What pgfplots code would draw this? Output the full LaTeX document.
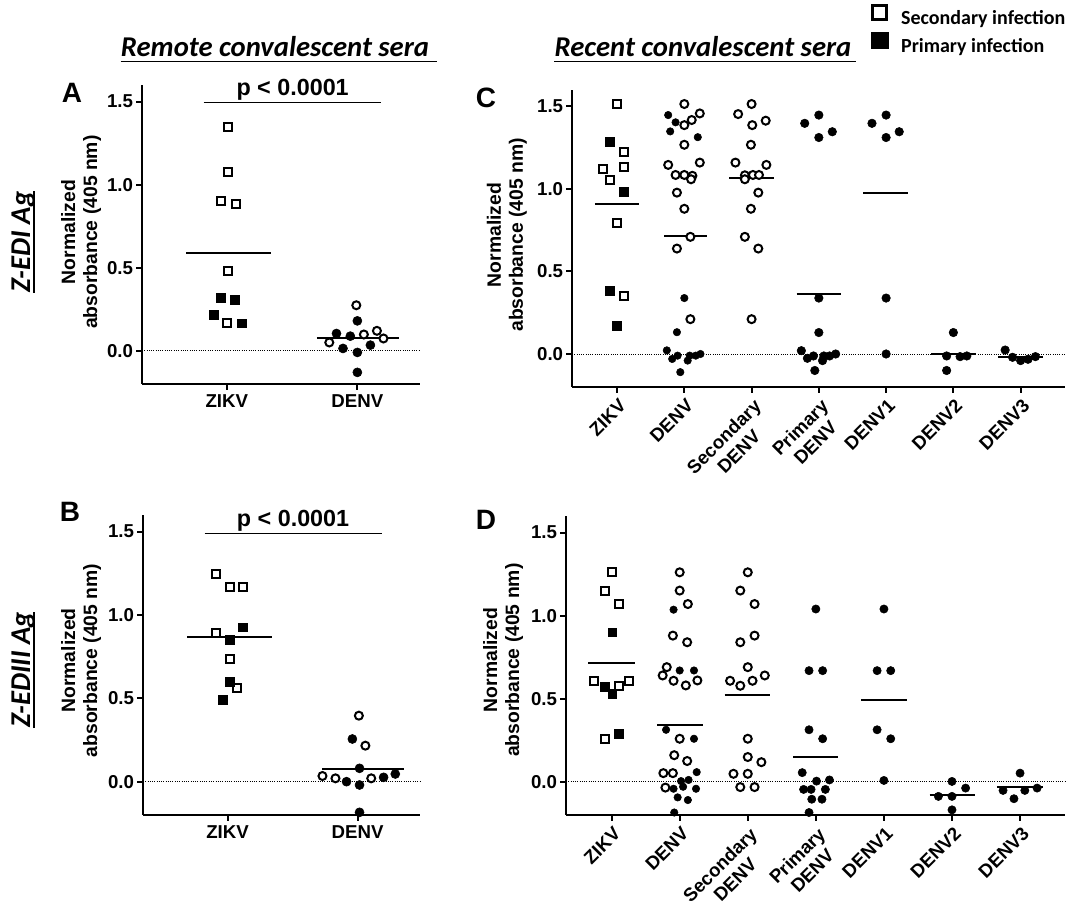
\documentclass[border=0pt]{standalone}
\usepackage{pgfplots}
\pgfplotsset{compat=1.18}
\usepackage{fontspec}
\setmainfont{Liberation Sans}
\newfontfamily\calibri{Carlito}

\pgfplotsset{
  panel/.style={
    scale only axis,
    axis lines=left,
    axis line style={line width=1.5pt, -},
    ymin=-0.2, ymax=1.6,
    ytick={0,0.5,1,1.5},
    yticklabel style={/pgf/number format/fixed, /pgf/number format/fixed zerofill, /pgf/number format/precision=1, inner sep=2pt},
    /pgf/number format/assume math mode=true,
    tick align=outside,
    major tick length=4.5pt,
    tick style={line width=1.5pt, black},
    tick label style={font=\fontsize{14}{16}\selectfont\bfseries},
    label style={font=\fontsize{14.5}{16.5}\selectfont\bfseries, align=center},
    ylabel={Normalized\\absorbance (405 nm)},
    clip=false,
  },
  twocat/.style={xmin=0.35, xmax=2.48, xtick={1,2}, xticklabels={ZIKV,DENV}},
  sevencat/.style={xmin=0.33, xmax=7.66, xtick={1,2,3,4,5,6,7},
    xticklabels={ZIKV,DENV,{Secondary\\DENV},{Primary\\DENV},DENV1,DENV2,DENV3},
    xticklabel style={rotate=45, anchor=north east, align=center, inner sep=1pt, yshift=-2pt, xshift=-1pt}},
  sqo/.style={only marks, mark=square*, mark size=3.0pt, mark options={draw=black, fill=white, line width=1.5pt}},
  sqf/.style={only marks, mark=square*, mark size=3.3pt, mark options={draw=black, fill=black, line width=0.4pt}},
  cio/.style={only marks, mark=*, mark size=3.0pt, mark options={draw=black, fill=white, line width=1.5pt}},
  cif/.style={only marks, mark=*, mark size=#1, mark options={draw=black, fill=black, line width=0.4pt}},
  cif/.default=3.4pt,
  meanl/.style={black, line width=1.5pt, no marks},
  zerol/.style={black, densely dotted, line width=0.7pt, no marks},
}

\begin{document}
\begin{tikzpicture}
\path[use as bounding box] (0,0) rectangle (803.25pt,677.25pt);

% ---------------- Panel A ----------------
\begin{axis}[panel, twocat, at={(106.5pt,389.25pt)}, anchor=south west,
  width=208.5pt, height=224.25pt,
  ylabel style={at={(axis description cs:-0.219,0.508)}, anchor=center}]
\addplot[zerol] coordinates {(0.35,0) (2.48,0)};
\addplot[sqo] coordinates {(1.01,1.35) (1.01,1.074) (0.954,0.90) (1.067,0.884) (1.01,0.478) (1.005,0.166)};
\addplot[sqf] coordinates {(0.956,0.32) (1.062,0.308) (0.90,0.218) (1.113,0.166)};
\addplot[cio] coordinates {(1.992,0.274) (2.05,0.098) (2.15,0.12) (2.2,0.074) (1.785,0.05)};
\addplot[cif] coordinates {(2.0,0.18) (1.84,0.104) (1.946,0.088) (1.89,0.014) (2.1,0.034) (2.0,-0.01) (2.0,-0.13)};
\addplot[meanl] coordinates {(0.69,0.586) (1.336,0.586)};
\addplot[meanl] coordinates {(1.69,0.074) (2.32,0.074)};
\addplot[black, line width=1pt, no marks] coordinates {(0.823,1.494) (2.185,1.494)};
\node[anchor=south, inner sep=1.5pt, font=\fontsize{17.5}{19}\selectfont\bfseries] at (axis cs:1.504,1.494) {p < 0.0001};
\end{axis}

% ---------------- Panel B ----------------
\begin{axis}[panel, twocat, at={(107.25pt,66pt)}, anchor=south west,
  width=207.75pt, height=225pt,
  ylabel style={at={(axis description cs:-0.223,0.515)}, anchor=center}]
\addplot[zerol] coordinates {(0.35,0) (2.48,0)};
\addplot[sqo] coordinates {(0.91,1.246) (1.02,1.17) (1.12,1.17) (0.91,0.89) (1.02,0.734) (1.07,0.56)};
\addplot[sqf] coordinates {(1.12,0.926) (1.02,0.85) (1.02,0.60) (0.965,0.49)};
\addplot[cio] coordinates {(2.01,0.396) (2.06,0.216) (1.73,0.034) (1.83,0.02) (2.105,0.02)};
\addplot[cif] coordinates {(1.96,0.256) (2.015,0.08) (1.915,0.0) (2.015,-0.02) (2.2,0.026) (2.29,0.046) (2.015,-0.184)};
\addplot[meanl] coordinates {(0.69,0.866) (1.34,0.866)};
\addplot[meanl] coordinates {(1.73,0.076) (2.36,0.076)};
\addplot[black, line width=1pt, no marks] coordinates {(0.823,1.49) (2.185,1.49)};
\node[anchor=south, inner sep=1.5pt, font=\fontsize{17.5}{19}\selectfont\bfseries] at (axis cs:1.504,1.49) {p < 0.0001};
\end{axis}

% ---------------- Panel C ----------------
\begin{axis}[panel, sevencat, at={(429pt,387pt)}, anchor=south west,
  width=369.75pt, height=222.75pt,
  ylabel style={at={(axis description cs:-0.132,0.512)}, anchor=center},
  legend style={at={(axis description cs:0.6065,1.286)}, anchor=north west, draw=none, fill=none,
    font=\calibri\fontsize{15}{18}\selectfont\bfseries, row sep=4pt, column sep=10pt, inner sep=0pt,
    nodes={inner sep=0pt}, legend cell align=left},
  legend image code/.code={\draw[#1] plot coordinates {(0pt,4.6pt)};}]
\addlegendimage{only marks, mark=square*, mark size=5.4pt, mark options={draw=black, fill=white, line width=2pt}}
\addlegendentry{Secondary infection}
\addlegendimage{only marks, mark=square*, mark size=6.2pt, mark options={draw=black, fill=black, line width=0.4pt}}
\addlegendentry{Primary infection}
\addplot[zerol, forget plot] coordinates {(0.33,0) (7.66,0)};
% ZIKV
\addplot[sqo, forget plot] coordinates {(1,1.515) (1.10,1.227) (0.79,1.12) (1.10,1.136) (0.89,1.053) (1,0.795) (1.10,0.349)};
\addplot[sqf, forget plot] coordinates {(0.89,1.286) (1.10,0.984) (0.89,0.385) (1,0.17)};
\addplot[meanl, forget plot] coordinates {(0.67,0.911) (1.32,0.911)};
% DENV
\addplot[cif=2.8pt, forget plot] coordinates {(1.76,1.448) (1.87,1.404) (1.79,1.349) (2.20,1.314) (2,0.339) (1.89,0.132) (1.74,0.022) (1.82,-0.03) (1.9,-0.01) (1.94,-0.11) (2.05,-0.04) (2.08,-0.01) (2.17,-0.01) (2.24,0.0)};
\addplot[cio, forget plot] coordinates {(2,1.515) (2.23,1.458) (2.11,1.418) (2,1.387) (2,1.268) (2.23,1.16) (1.76,1.146) (1.87,1.085) (2.0,1.085) (2.12,1.08) (2.10,1.059) (1.89,0.978) (2,0.88) (2.09,0.71) (1.89,0.639) (2.09,0.211)};
\addplot[meanl, forget plot] coordinates {(1.70,0.714) (2.33,0.714)};
% Secondary DENV
\addplot[cio, forget plot] coordinates {(3,1.515) (2.80,1.454) (3.21,1.414) (3.01,1.387) (2.99,1.268) (2.76,1.16) (3.22,1.146) (2.90,1.083) (3.02,1.085) (3.11,1.085) (2.90,1.059) (3.10,0.978) (2.99,0.88) (2.90,0.71) (3.10,0.639) (3,0.211)};
\addplot[meanl, forget plot] coordinates {(2.67,1.067) (3.33,1.067)};
% Primary DENV
\addplot[cif=3.2pt, forget plot] coordinates {(4,1.448) (3.79,1.398) (4,1.312) (4.2,1.347) (4,0.339) (4,0.13) (3.74,0.02) (3.83,-0.026) (3.92,-0.012) (3.94,-0.10) (4.055,-0.04) (4.075,-0.012) (4.16,-0.012) (4.25,0.0)};
\addplot[meanl, forget plot] coordinates {(3.67,0.363) (4.33,0.363)};
% DENV1
\addplot[cif=3.2pt, forget plot] coordinates {(5,1.448) (4.79,1.398) (5,1.312) (5.195,1.347) (5,0.339) (5,0.0)};
\addplot[meanl, forget plot] coordinates {(4.66,0.974) (5.33,0.974)};
% DENV2
\addplot[cif=3.2pt, forget plot] coordinates {(6,0.13) (5.9,-0.012) (6.1,-0.016) (6.2,-0.012) (5.9,-0.10)};
\addplot[meanl, forget plot] coordinates {(5.67,0.0) (6.33,0.0)};
% DENV3
\addplot[cif=3.2pt, forget plot] coordinates {(6.77,0.024) (6.88,-0.02) (7,-0.04) (7.11,-0.032) (7.22,-0.016)};
\addplot[meanl, forget plot] coordinates {(6.67,-0.016) (7.33,-0.016)};
\end{axis}

% ---------------- Panel D ----------------
\begin{axis}[panel, sevencat, at={(424.5pt,66pt)}, anchor=south west,
  width=374.25pt, height=224.25pt,
  ylabel style={at={(axis description cs:-0.126,0.518)}, anchor=center}]
\addplot[zerol] coordinates {(0.33,0) (7.66,0)};
% ZIKV
\addplot[sqo] coordinates {(1.01,1.261) (0.90,1.151) (1.11,1.07) (0.74,0.608) (1.11,0.578) (1.25,0.608) (0.91,0.259)};
\addplot[sqf] coordinates {(1.01,0.90) (0.90,0.574) (1.01,0.53) (1.11,0.287)};
\addplot[meanl] coordinates {(0.66,0.713) (1.34,0.713)};
% DENV
\addplot[cif=2.8pt] coordinates {(1.91,1.036) (2,0.67) (2.21,0.67) (1.8,0.313) (2.21,0.259) (2.25,0.058) (2.02,0.004) (2.13,0.011) (1.91,-0.042) (2.24,-0.042) (2.05,-0.03) (1.97,-0.094) (2.12,-0.11) (1.92,-0.185)};
\addplot[cio] coordinates {(2,1.261) (2,1.151) (2.12,1.07) (1.9,0.88) (2.11,0.84) (1.81,0.69) (1.75,0.64) (1.91,0.608) (2.09,0.58) (2.26,0.61) (2,0.259) (1.92,0.16) (2.11,0.125) (1.76,0.052) (1.9,0.052) (1.79,-0.035)};
\addplot[meanl] coordinates {(1.67,0.341) (2.34,0.341)};
% Secondary DENV
\addplot[cio] coordinates {(3,1.261) (2.89,1.151) (3.1,1.07) (3.1,0.88) (2.89,0.84) (3,0.69) (3.25,0.64) (2.74,0.608) (2.89,0.578) (3.07,0.608) (3,0.259) (3,0.149) (3.2,0.118) (2.79,0.048) (3,0.048) (2.89,-0.032) (3.1,-0.032)};
\addplot[meanl] coordinates {(2.66,0.524) (3.32,0.524)};
% Primary DENV
\addplot[cif=3.1pt] coordinates {(4,1.04) (3.9,0.669) (4.1,0.669) (3.9,0.313) (4.1,0.259) (3.8,0.055) (4.01,0.004) (4.2,0.011) (3.82,-0.046) (3.93,-0.046) (4.14,-0.046) (3.94,-0.105) (4.09,-0.105) (3.9,-0.185)};
\addplot[meanl] coordinates {(3.67,0.149) (4.33,0.149)};
% DENV1
\addplot[cif=3.1pt] coordinates {(5,1.04) (4.9,0.669) (5.1,0.669) (4.9,0.313) (5.1,0.259) (5,0.008)};
\addplot[meanl] coordinates {(4.67,0.494) (5.34,0.494)};
% DENV2
\addplot[cif=3.1pt] coordinates {(6,0.002) (6.2,-0.038) (5.8,-0.088) (6,-0.088) (6,-0.169)};
\addplot[meanl] coordinates {(5.67,-0.078) (6.34,-0.078)};
% DENV3
\addplot[cif=3.1pt] coordinates {(7,0.052) (6.75,-0.052) (7.07,-0.052) (7.25,-0.038) (6.91,-0.102)};
\addplot[meanl] coordinates {(6.66,-0.032) (7.33,-0.032)};
\end{axis}

% ---------------- Titles and labels ----------------
\node[anchor=base, inner sep=0pt, font=\calibri\bfseries\itshape\fontsize{21.5}{24}\selectfont] (t1) at (206.25pt,634.5pt) {Remote convalescent sera};
\draw[line width=1.1pt] ([yshift=-3.5pt]t1.base west) -- ([yshift=-3.5pt,xshift=6pt]t1.base east);
\node[anchor=base, inner sep=0pt, font=\calibri\bfseries\itshape\fontsize{21.5}{24}\selectfont] (t2) at (527.25pt,634.5pt) {Recent convalescent sera};
\draw[line width=1.1pt] ([yshift=-3.5pt]t2.base west) -- ([yshift=-3.5pt,xshift=3pt]t2.base east);

\node[rotate=90, anchor=base, inner sep=0pt, font=\calibri\bfseries\itshape\fontsize{21.5}{24}\selectfont] (r1) at (22.5pt,495.75pt) {Z-EDI Ag};
\draw[line width=1.1pt] ([xshift=3pt]r1.base west) -- ([xshift=3pt]r1.base east);
\node[rotate=90, anchor=base, inner sep=0pt, font=\calibri\bfseries\itshape\fontsize{21.5}{24}\selectfont] (r2) at (22.5pt,174.75pt) {Z-EDIII Ag};
\draw[line width=1.1pt] ([xshift=3pt]r2.base west) -- ([xshift=3pt]r2.base east);

\node[font=\fontsize{21}{24}\selectfont\bfseries] at (54pt,607.5pt) {A};
\node[font=\fontsize{21}{24}\selectfont\bfseries] at (52.5pt,293.25pt) {B};
\node[font=\fontsize{21}{24}\selectfont\bfseries] at (364.5pt,603.75pt) {C};
\node[font=\fontsize{21}{24}\selectfont\bfseries] at (364.5pt,287.25pt) {D};
\end{tikzpicture}
\end{document}
